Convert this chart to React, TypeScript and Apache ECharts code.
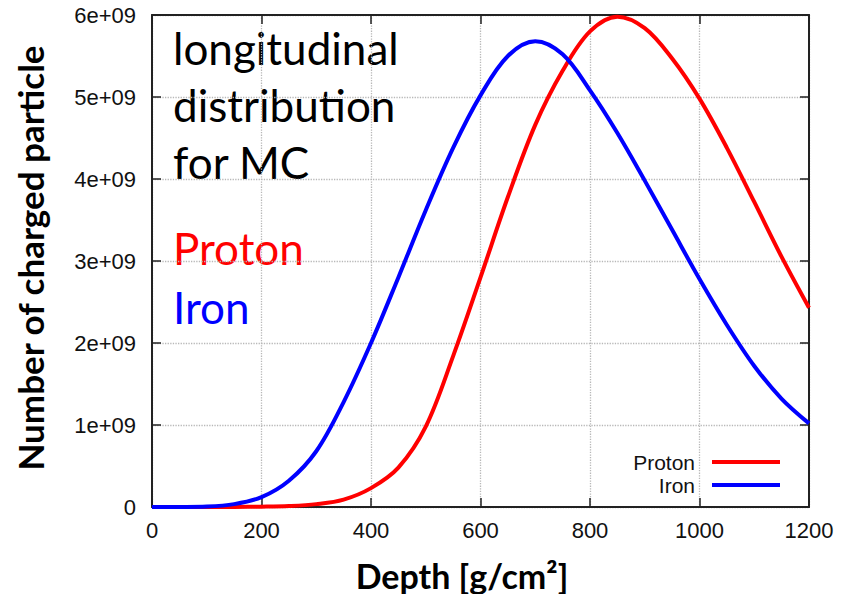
import React, { useEffect, useRef } from "react";
import * as echarts from "echarts";

const depth = [0, 50, 100, 150, 200, 250, 300, 350, 400, 450, 500, 550, 600, 650, 700, 750, 800, 850, 900, 950, 1000, 1050, 1100, 1150, 1200];
const proton = [0, 0, 0.0005e9, 0.001e9, 0.004e9, 0.012e9, 0.035e9, 0.09e9, 0.23e9, 0.48e9, 0.98e9, 1.84e9, 2.8e9, 3.78e9, 4.66e9, 5.32e9, 5.8e9, 5.98e9, 5.84e9, 5.47e9, 4.98e9, 4.38e9, 3.72e9, 3.05e9, 2.43e9];
const iron = [0, 0.001e9, 0.006e9, 0.035e9, 0.12e9, 0.32e9, 0.68e9, 1.28e9, 2.0e9, 2.8e9, 3.62e9, 4.38e9, 5.02e9, 5.5e9, 5.68e9, 5.52e9, 5.08e9, 4.56e9, 3.98e9, 3.38e9, 2.78e9, 2.22e9, 1.72e9, 1.32e9, 1.02e9];
const seriesNames = ["Proton", "Iron"];
const seriesColors = ["#ff0000", "#0000ff"];
const annotationLines = ["longitudinal", "distribution", "for MC"];
const yTitle = "Number of charged particle";
const xTitle = "Depth [g/cm\u00b2]";

const tickFont = "'Liberation Sans', Arial, sans-serif";
const titleFont = "Lato, 'Open Sans', sans-serif";

export default function App() {
  const ref = useRef<HTMLDivElement>(null);
  useEffect(() => {
    if (!ref.current) return;
    const chart = echarts.init(ref.current, undefined, { renderer: "svg" });
    const axisLine = { show: true, onZero: false, lineStyle: { color: "#222", width: 2 } };
    const axisTick = { show: true, inside: true, length: 9, lineStyle: { color: "#222", width: 1.5 } };
    const splitLine = { show: true, lineStyle: { type: "dotted" as const, color: "#b8b8b8", width: 1.3 } };
    const xBase = { type: "value" as const, min: 0, max: 1200, interval: 200 };
    const yBase = { type: "value" as const, min: 0, max: 6e9, interval: 1e9 };
    chart.setOption({
      animation: false,
      backgroundColor: "#ffffff",
      grid: { left: 152, right: 32, top: 15, bottom: 87, containLabel: false },
      xAxis: [
        {
          ...xBase,
          position: "bottom",
          axisLine,
          axisTick,
          splitLine,
          axisLabel: {
            fontFamily: tickFont,
            fontSize: 22,
            color: "#111",
            margin: 12,
            formatter: (v: number) => String(v),
          },
        },
        { ...xBase, position: "top", axisLine, axisTick, splitLine: { show: false }, axisLabel: { show: false } },
      ],
      yAxis: [
        {
          ...yBase,
          position: "left",
          axisLine,
          axisTick,
          splitLine,
          axisLabel: {
            fontFamily: tickFont,
            fontSize: 22,
            color: "#111",
            margin: 16,
            formatter: (v: number) => (v === 0 ? "0" : `${Math.round(v / 1e9)}e+09`),
          },
        },
        { ...yBase, position: "right", axisLine, axisTick, splitLine: { show: false }, axisLabel: { show: false } },
      ],
      legend: {
        data: seriesNames.map((n, i) => ({ name: n, icon: "rect", itemStyle: { color: seriesColors[i] } })),
        orient: "vertical",
        right: 61,
        top: 451,
        padding: 0,
        align: "right",
        itemWidth: 68,
        itemHeight: 4,
        itemGap: 1,
        textStyle: { fontFamily: tickFont, fontSize: 21, lineHeight: 22, color: "#111", padding: [0, 12, 0, 0] },
      },
      series: [
        {
          name: seriesNames[0],
          type: "line",
          smooth: 0.35,
          symbol: "none",
          data: depth.map((d, i) => [d, proton[i]]),
          lineStyle: { color: seriesColors[0], width: 4 },
          itemStyle: { color: seriesColors[0] },
        },
        {
          name: seriesNames[1],
          type: "line",
          smooth: 0.35,
          symbol: "none",
          data: depth.map((d, i) => [d, iron[i]]),
          lineStyle: { color: seriesColors[1], width: 4 },
          itemStyle: { color: seriesColors[1] },
        },
      ],
      graphic: [
        ...annotationLines.map((t, i) => ({
          type: "text",
          left: 173,
          top: 26 + i * 57,
          style: { text: t, fontFamily: titleFont, fontSize: 44, fill: "#000" },
        })),
        {
          type: "text",
          left: 173,
          top: 26 + 200,
          style: { text: seriesNames[0], fontFamily: titleFont, fontSize: 44, fill: seriesColors[0] },
        },
        {
          type: "text",
          left: 173,
          top: 26 + 259,
          style: { text: seriesNames[1], fontFamily: titleFont, fontSize: 44, fill: seriesColors[1] },
        },
        {
          type: "text",
          x: 30,
          y: 258,
          rotation: Math.PI / 2,
          style: {
            text: yTitle,
            fontFamily: titleFont,
            fontWeight: "bold",
            fontSize: 35,
            fill: "#000",
            align: "center",
            verticalAlign: "middle",
          },
        },
        {
          type: "text",
          x: 462,
          y: 575,
          style: {
            text: xTitle,
            fontFamily: titleFont,
            fontWeight: "bold",
            fontSize: 34,
            fill: "#000",
            align: "center",
            verticalAlign: "middle",
          },
        },
      ],
    });
    return () => chart.dispose();
  }, []);
  return <div ref={ref} style={{ width: 841, height: 594, position: "absolute", left: 0, top: 0 }} />;
}
